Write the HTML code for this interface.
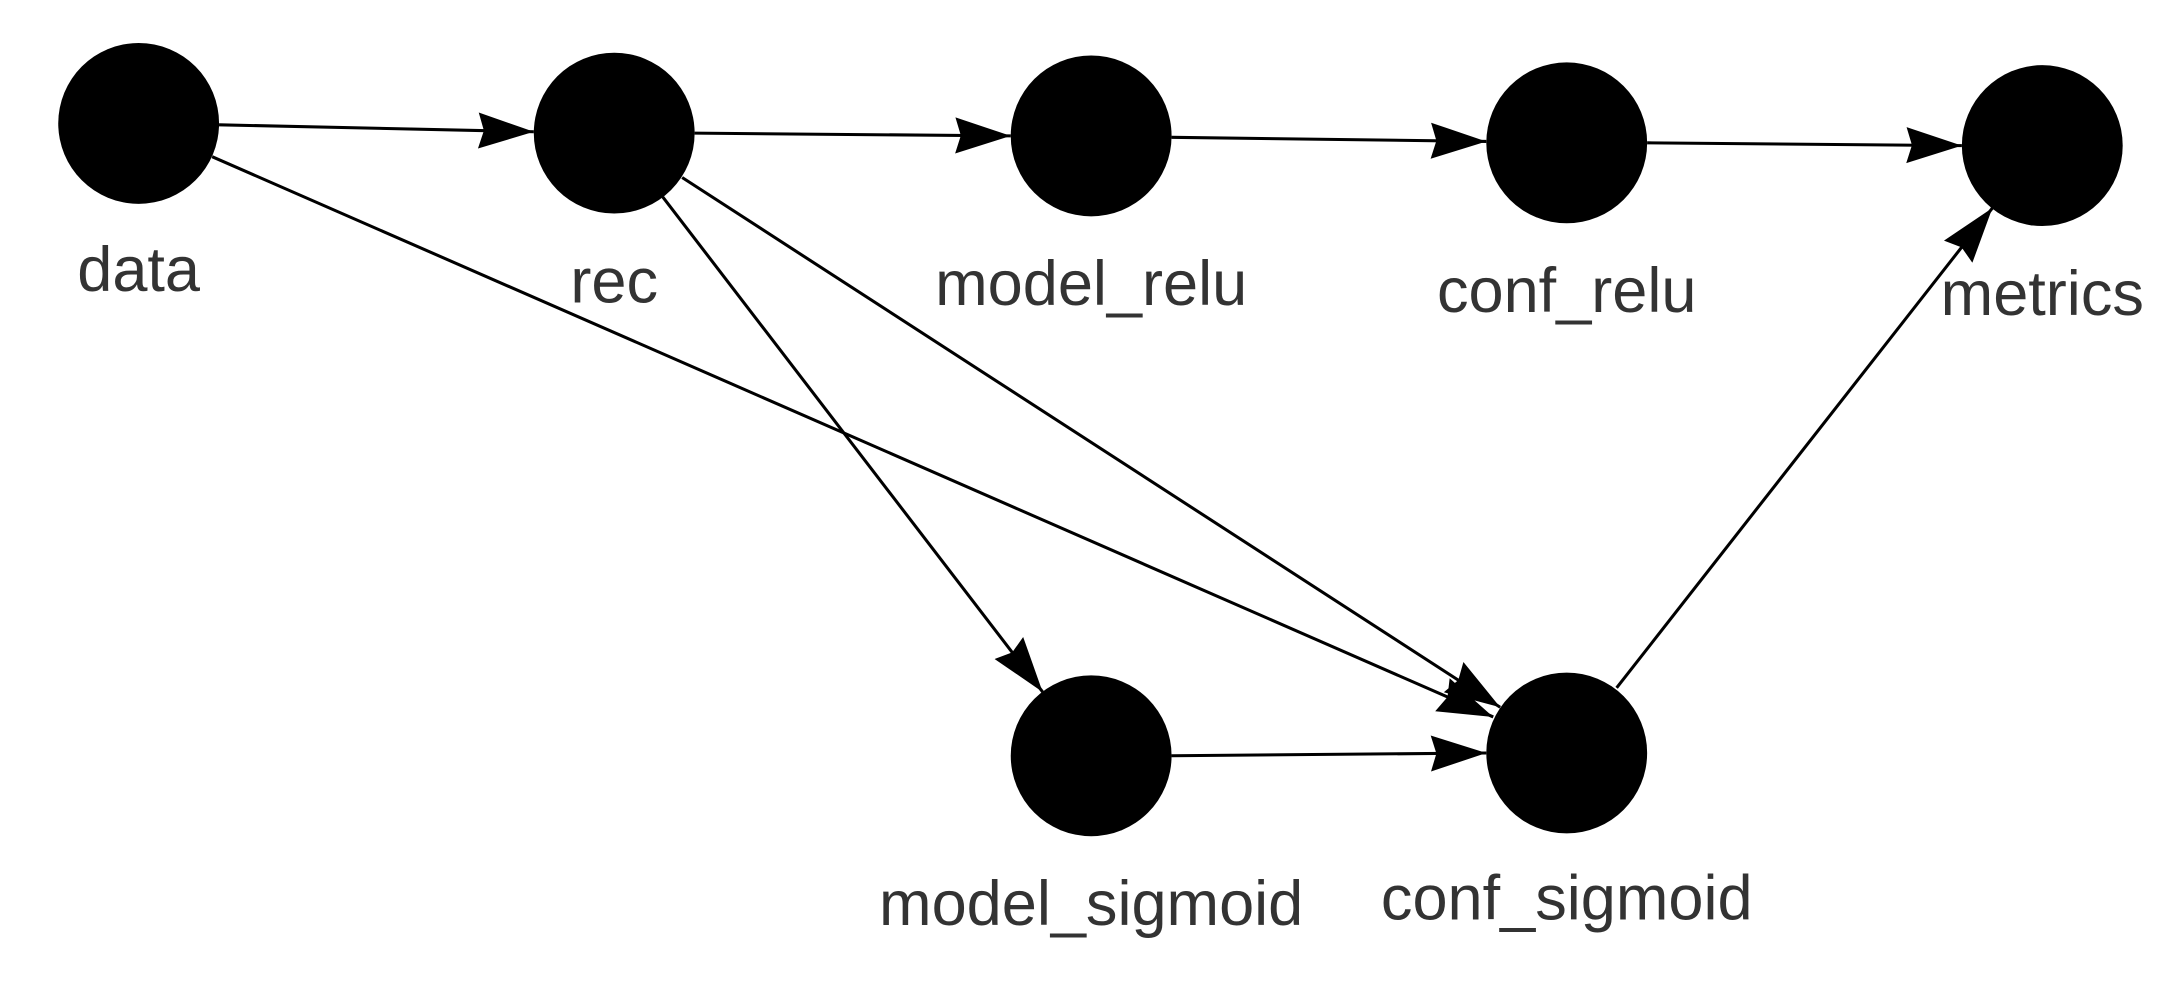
<!DOCTYPE html>
<html><head><meta charset="utf-8"><style>
html,body{margin:0;padding:0;background:#fff;width:2174px;height:1004px;overflow:hidden}
svg{display:block}
text{font-family:"Liberation Sans",sans-serif;font-size:45.5px;fill:#333;text-anchor:middle}
</style></head><body>
<svg width="2174" height="1004" viewBox="0 0 1568 724" preserveAspectRatio="none">
<defs>
<marker id="a" markerUnits="userSpaceOnUse" markerWidth="44" markerHeight="30" refX="40" refY="15" orient="auto">
<path d="M0,2 L40,15 L0,28 L4,15 Z" fill="#000"/>
</marker>
</defs>
<g stroke="#000" stroke-width="2.2" fill="none" marker-end="url(#a)">
<line x1="158" y1="90" x2="385" y2="95"/>
<line x1="501" y1="96" x2="729" y2="98"/>
<line x1="845" y1="99" x2="1072" y2="102"/>
<line x1="1188" y1="103" x2="1415" y2="105"/>
<line x1="153" y1="113" x2="1077" y2="517"/>
<line x1="492" y1="128" x2="1082" y2="510"/>
<line x1="478" y1="142" x2="752" y2="499"/>
<line x1="845" y1="545" x2="1072" y2="543"/>
<line x1="1166" y1="496" x2="1437" y2="150"/>
</g>
<g fill="#000">
<circle cx="100" cy="89" r="58"/>
<circle cx="443" cy="96" r="58"/>
<circle cx="787" cy="98" r="58"/>
<circle cx="1130" cy="103" r="58"/>
<circle cx="1473" cy="105" r="58"/>
<circle cx="787" cy="545" r="58"/>
<circle cx="1130" cy="543" r="58"/>
</g>
<text x="100" y="210">data</text>
<text x="443" y="218">rec</text>
<text x="787" y="220">model_relu</text>
<text x="1130" y="225">conf_relu</text>
<text x="1473" y="227">metrics</text>
<text x="787" y="667">model_sigmoid</text>
<text x="1130" y="663">conf_sigmoid</text>
</svg>
</body></html>
